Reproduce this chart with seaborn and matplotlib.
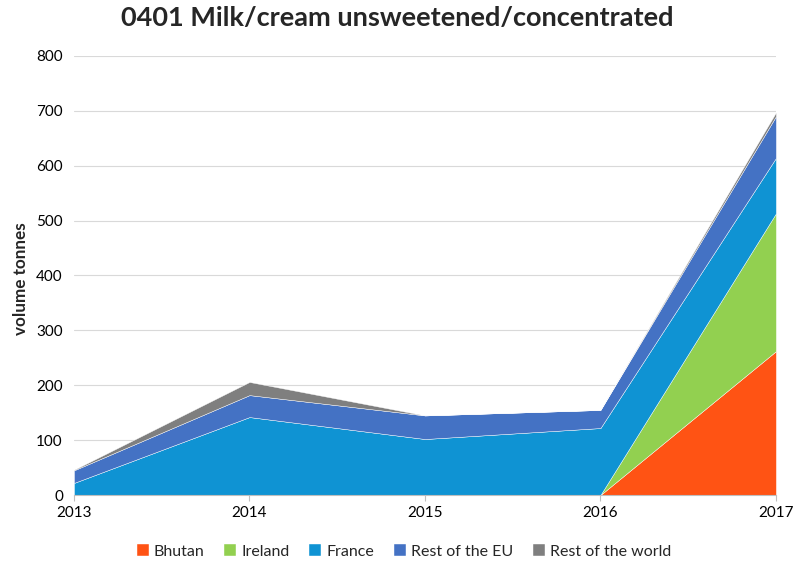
"""
Stacked area chart: 0401 Milk/cream unsweetened/concentrated, volume by origin
"""

import matplotlib
matplotlib.use('Agg')
import matplotlib.pyplot as plt
import pandas as pd
import seaborn as sns

# Data (tonnes)
years = [2013, 2014, 2015, 2016, 2017]
bhutan = [0, 0, 0, 0, 262]
ireland = [0, 0, 0, 0, 251]
france = [22, 142, 102, 122, 101]
rest_eu = [23, 40, 43, 33, 76]
rest_world = [1, 24, 0, 0, 7]

series_names = ['Bhutan', 'Ireland', 'France', 'Rest of the EU', 'Rest of the world']
colors = ['#FF5314', '#92D050', '#0F93D3', '#4472C4', '#7F7F7F']

df = pd.DataFrame({
    'Bhutan': bhutan,
    'Ireland': ireland,
    'France': france,
    'Rest of the EU': rest_eu,
    'Rest of the world': rest_world,
}, index=years)

sns.set_theme(style='white')
plt.rcParams['font.family'] = ['Lato', 'DejaVu Sans']

fig = plt.figure(figsize=(7.94, 5.62), dpi=100)
ax = fig.add_axes([0.0932, 0.1192, 0.8840, 0.7812])

ax.stackplot(df.index, [df[c] for c in series_names], labels=series_names,
             colors=colors, edgecolor='#FFFFFF', linewidth=0.3, alpha=1.0)

ax.set_xlim(2013, 2017)
ax.set_ylim(0, 800)
ax.set_xticks(years)
ax.set_xticklabels([str(y) for y in years], fontsize=11, color='#000000')
ax.set_yticks(range(0, 801, 100))
ax.tick_params(axis='y', labelsize=11, length=0, pad=8, labelcolor='#000000')
ax.tick_params(axis='x', length=4, width=0.8, color='#BFBFBF', direction='out',
               bottom=True, pad=4)

ax.grid(axis='y', color='#D9D9D9', linewidth=0.8)
ax.set_axisbelow(True)
for side in ['top', 'right', 'left']:
    ax.spines[side].set_visible(False)
ax.spines['bottom'].set_color('#BFBFBF')
ax.spines['bottom'].set_linewidth(0.8)

ax.set_ylabel('volume tonnes', fontsize=12.3, fontweight='bold', labelpad=6)
ax.yaxis.set_label_coords(-0.064, 0.494)

fig.suptitle('0401 Milk/cream unsweetened/concentrated', fontsize=19.5,
             fontweight='bold', x=0.5, y=0.99)

ax.legend(loc='lower center', bbox_to_anchor=(0.47, -0.178), ncol=5,
          frameon=False, fontsize=11.5, handlelength=0.75, handleheight=0.75,
          handletextpad=0.3, columnspacing=1.25)

plt.savefig('out.png', dpi=100)
plt.close()
